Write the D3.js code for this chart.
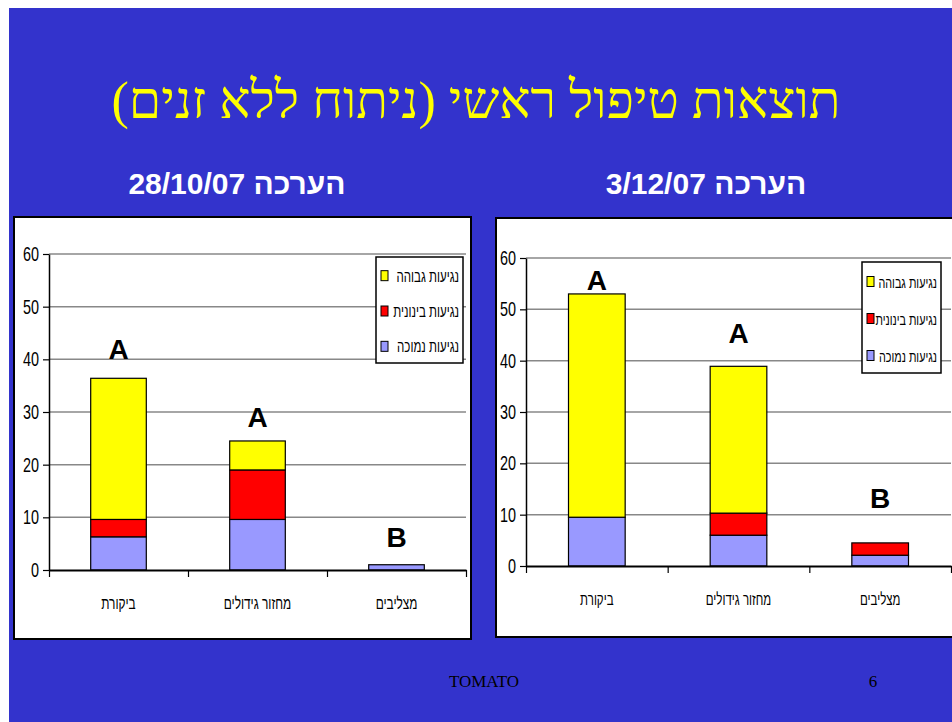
<html><head><meta charset="utf-8">
<style>
    body {
        margin: 0;
        background: #ffffff;
        font-family: "Liberation Sans", Arial, sans-serif;
    }
    svg { display: block; }
</style>
</head>
<body>
<svg id="slide"></svg>
<script src="https://d3js.org/d3.v7.min.js"></script>
<script>
    // categories / series
    const categories = ["ביקורת", "מחזור גידולים", "מצליבים"];
    const seriesNames = ["נגיעות נמוכה", "נגיעות בינונית", "נגיעות גבוהה"];
    const seriesColors = ["#9999ff", "#ff0000", "#ffff00"];
    const yTicks = [0, 10, 20, 30, 40, 50, 60];

    // assessment 28/10/07
    const lowOct = [6.3, 9.6, 1.0];
    const midOct = [3.3, 9.4, 0];
    const highOct = [26.8, 5.5, 0];
    const lettersOct = ["A", "A", "B"];
    const letterLevelOct = [42, 29, 6.3];

    // assessment 3/12/07
    const lowDec = [9.5, 6.0, 2.1];
    const midDec = [0, 4.3, 2.4];
    const highDec = [43.5, 28.6, 0];
    const lettersDec = ["A", "A", "B"];
    const letterLevelDec = [55.7, 45.4, 13.3];

    const titleText = "תוצאות טיפול ראשי (ניתוח ללא זנים)";
    const subtitleOct = "הערכה 28/10/07";
    const subtitleDec = "הערכה 3/12/07";

    let width = 952, height = 722;
    let svg = d3.select("#slide").attr("width", width).attr("height", height);

    svg.append("rect")
        .attr("x", 9).attr("y", 8)
        .attr("width", width - 9).attr("height", height - 8)
        .attr("fill", "#3333cc");

    svg.append("text")
        .attr("x", 476).attr("y", 118)
        .attr("text-anchor", "middle")
        .attr("direction", "rtl")
        .style("font-family", "'Liberation Serif', 'Times New Roman', serif")
        .style("font-size", "52px")
        .attr("fill", "#ffff00")
        .text(titleText);

    function subtitle(x, txt) {
        svg.append("text")
            .attr("x", x).attr("y", 194)
            .attr("text-anchor", "middle")
            .attr("direction", "rtl")
            .style("font-size", "30px")
            .style("font-weight", "bold")
            .attr("fill", "#ffffff")
            .text(txt);
    }
    subtitle(237, subtitleOct);
    subtitle(706, subtitleDec);

    // tall narrow chart text
    function squeezed(parent, x, y, txt, anchor, size, dir) {
        parent.append("text")
            .attr("transform", `translate(${x},${y}) scale(0.72,1)`)
            .attr("text-anchor", anchor)
            .attr("direction", dir || "rtl")
            .style("font-family", "'Liberation Sans Narrow', 'Liberation Sans', sans-serif")
            .style("font-size", size + "px")
            .attr("fill", "#000")
            .text(txt);
    }

    function drawPanel(cfg, low, mid, high, letters, letterLevels) {
        let {box, plot, legend} = cfg;
        let g = svg.append("g");

        g.append("rect")
            .attr("x", box.x).attr("y", box.y)
            .attr("width", box.w).attr("height", box.h)
            .attr("fill", "#fff")
            .attr("stroke", "#000").attr("stroke-width", 2);

        let yScale = d3.scaleLinear().domain([0, 60]).range([plot.bottom, plot.top]);
        let xScale = d3.scaleBand().domain(categories).range([plot.left, plot.right])
            .paddingInner(0.6).paddingOuter(0.3);
        let edges = d3.scaleLinear().domain([0, 3]).range([plot.left, plot.right]);

        // gridlines
        g.selectAll(".grid").data(yTicks.slice(1)).enter().append("line")
            .attr("x1", plot.left).attr("x2", plot.right)
            .attr("y1", d => yScale(d)).attr("y2", d => yScale(d))
            .attr("stroke", "#888").attr("stroke-width", 1.5);

        // stacked bars
        let rows = categories.map((c, i) => ({cat: c, low: low[i], mid: mid[i], high: high[i]}));
        let stack = d3.stack().keys(["low", "mid", "high"])(rows);
        stack.forEach((layer, k) => {
            g.selectAll(".bar" + k).data(layer.filter(d => d[1] - d[0] > 0)).enter().append("rect")
                .attr("x", d => xScale(d.data.cat))
                .attr("width", xScale.bandwidth())
                .attr("y", d => yScale(d[1]))
                .attr("height", d => yScale(d[0]) - yScale(d[1]))
                .attr("fill", seriesColors[k])
                .attr("stroke", "#000").attr("stroke-width", 1.2);
        });

        // y axis
        let yAxis = g.append("g")
            .attr("transform", `translate(${plot.left},0)`)
            .call(d3.axisLeft(yScale).tickValues(yTicks).tickSize(6).tickSizeOuter(0).tickFormat(""));
        yAxis.select(".domain").attr("stroke", "#000").attr("stroke-width", 1.5);
        yAxis.selectAll(".tick line").attr("stroke", "#000").attr("stroke-width", 1.2);
        yTicks.forEach(t => squeezed(g, plot.left - 10, yScale(t) + 7, String(t), "end", 20, "ltr"));

        // x axis
        let xAxis = g.append("g")
            .attr("transform", `translate(0,${plot.bottom})`)
            .call(d3.axisBottom(edges).tickValues([0, 1, 2, 3]).tickSize(7).tickSizeOuter(0).tickFormat(""));
        xAxis.select(".domain").attr("stroke", "#000").attr("stroke-width", 2);
        xAxis.selectAll(".tick line").attr("stroke", "#000").attr("stroke-width", 1.2);
        categories.forEach(c => squeezed(g, xScale(c) + xScale.bandwidth() / 2, plot.bottom + 39, c, "middle", cfg.catSize));

        // significance letters
        letters.forEach((l, i) => {
            g.append("text")
                .attr("x", xScale(categories[i]) + xScale.bandwidth() / 2)
                .attr("y", yScale(letterLevels[i]))
                .attr("dy", "0.36em")
                .attr("text-anchor", "middle")
                .style("font-size", "28px").style("font-weight", "bold")
                .attr("fill", "#000")
                .text(l);
        });

        // legend
        let lg = g.append("g");
        lg.append("rect")
            .attr("x", legend.x).attr("y", legend.y)
            .attr("width", legend.w).attr("height", legend.h)
            .attr("fill", "#fff").attr("stroke", "#000").attr("stroke-width", 1.5);
        let order = [2, 1, 0];
        order.forEach((k, j) => {
            let cy = legend.y + legend.h * (j + 0.5) / 3 + 1;
            lg.append("rect")
                .attr("x", legend.x + 5).attr("y", cy - 5)
                .attr("width", 7).attr("height", 10)
                .attr("fill", seriesColors[k]).attr("stroke", "#000").attr("stroke-width", 1);
            squeezed(lg, legend.x + legend.w - 4, cy + 6, seriesNames[k], "start", legend.size);
        });
    }

    drawPanel({
        box: {x: 14, y: 217, w: 457, h: 422},
        plot: {left: 49, top: 254, right: 466, bottom: 570},
        legend: {x: 376, y: 257, w: 87, h: 106, size: 16},
        catSize: 16.5
    }, lowOct, midOct, highOct, lettersOct, letterLevelOct);

    drawPanel({
        box: {x: 496, y: 218, w: 470, h: 419},
        plot: {left: 526, top: 258, right: 951, bottom: 566},
        legend: {x: 862, y: 262, w: 79, h: 111, size: 15},
        catSize: 16
    }, lowDec, midDec, highDec, lettersDec, letterLevelDec);

    // footer
    svg.append("text")
        .attr("x", 484).attr("y", 687)
        .attr("text-anchor", "middle")
        .style("font-family", "'Liberation Serif', 'Times New Roman', serif")
        .style("font-size", "17px")
        .attr("fill", "#000")
        .text("TOMATO");
    svg.append("text")
        .attr("x", 873).attr("y", 687)
        .attr("text-anchor", "middle")
        .style("font-family", "'Liberation Serif', 'Times New Roman', serif")
        .style("font-size", "17px")
        .attr("fill", "#000")
        .text("6");
</script>
</body>
</html>
